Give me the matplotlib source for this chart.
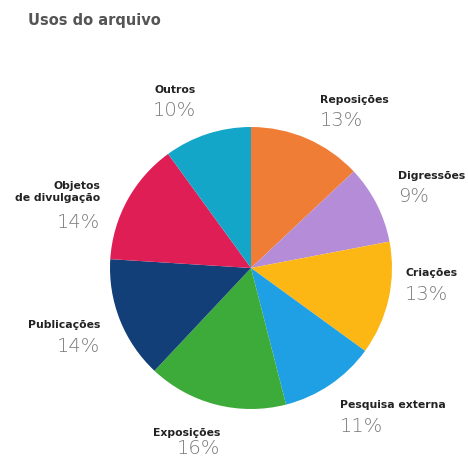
import matplotlib.pyplot as plt

# shares of archive use, clockwise from the top
labels = ['Reposições', 'Digressões', 'Criações', 'Pesquisa externa',
          'Exposições', 'Publicações', 'Objetos\nde divulgação', 'Outros']
shares = [13, 9, 13, 11, 16, 14, 14, 10]
colors = ['#f07d36', '#b48cd8', '#fdb714', '#1f9fe4',
          '#3dab3a', '#123f78', '#e01e56', '#14a6c9']

W, H = 468, 461
fig = plt.figure(figsize=(W / 100, H / 100), dpi=100)
ax = fig.add_axes([0, 0, 1, 1])

# pie laid out in pixel-like coordinates (y measured from the top)
cx, cy, r = 251, 268, 141
ax.pie(shares, colors=colors, startangle=90, counterclock=False,
       center=(cx, H - cy), radius=r, frame=False,
       wedgeprops=dict(linewidth=0))
ax.set_xlim(0, W)
ax.set_ylim(0, H)
ax.set_aspect('equal')
ax.axis('off')

fig.text(28 / W, 1 - 20 / H, 'Usos do arquivo', fontsize=10.5, fontweight='bold',
         color='#555555', va='center', ha='left')

# (x, y of name, alignment) for each label
spots = [(320, 100, 'left'), (398, 176, 'left'), (405, 273, 'left'),
         (340, 405, 'left'), (220, 433, 'right'), (100, 325, 'right'),
         (100, 192, 'right'), (196, 90, 'right')]

for lab, val, (x, y, ha) in zip(labels, shares, spots):
    nlines = lab.count('\n')
    ax.text(x, H - y, lab, fontsize=7.8, fontweight='bold', color='#222222',
            ha=ha, va='center', linespacing=1.3)
    py = min(y + 21 + nlines * 10, 449)
    ax.text(x, H - py, f'{val}%', fontsize=14, fontweight='light',
            color='#7a7a7a', ha=ha, va='center')

fig.savefig('out.png', dpi=100, facecolor='white')
